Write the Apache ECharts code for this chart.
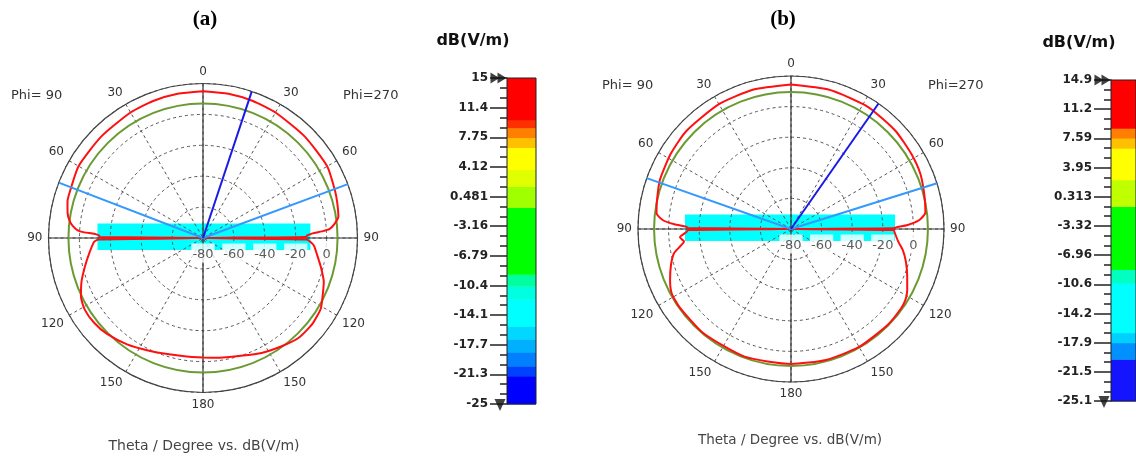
<!DOCTYPE html>
<html><head><meta charset="utf-8">
<script src="https://cdn.jsdelivr.net/npm/echarts@6/dist/echarts.min.js"></script>
<style>html,body{margin:0;padding:0;background:#fff}#c{width:1136px;height:460px}</style>
</head><body><div id="c"></div>
<script>
// ---------------- data ----------------
const radialTicks = [-80, -60, -40, -20, 0];

// (a) red pattern, Phi=270 side (right) and Phi=90 side (left): theta (deg) / dB(V/m)
const thA_R = [0, 10, 20, 30, 45, 60, 70, 75, 81, 84, 86, 86.8, 87.6, 88.6, 89.4, 90, 90.8, 92, 94, 98, 104, 110, 116, 121, 128, 136, 144, 153, 163, 172, 180];
const dbA_R = [15.0, 14.8, 14.4, 13.8, 13.0, 12.8, 10.8, 9.9, 8.7, 5.5, 2.0, -3.0, -9.0, -12.5, -13.5, -80, -13.0, -10.5, -8.0, -5.6, -1.3, 3.2, 6.1, 8.9, 10.0, 9.5, 6.6, 3.5, -0.2, -1.8, -2.6];
const thA_L = [0, 10, 20, 30, 45, 60, 71.6, 75, 79.6, 82.5, 84.5, 86.5, 87.3, 87.8, 88.6, 89.4, 90, 90.8, 92, 97.8, 103.7, 109.7, 115.6, 121.2, 127.9, 134.8, 144.5, 154.9, 167.3, 180];
const dbA_L = [15.0, 14.8, 14.4, 13.8, 13.0, 13.0, 11.2, 10.8, 9.1, 7.2, 5.0, 1.3, -3.0, -9.5, -12.5, -13.5, -80, -12.5, -9.5, -5.6, -1.3, 3.5, 7.6, 9.5, 9.3, 7.9, 4.6, 0.7, -2.2, -2.6];
const greenA = 7.1;          // reference level circle (dB)
const mainLobeA = 18.4;      // theta of main lobe (right side)
const beamA = [69.6, 291];   // angular width lines (angle values)
const cyanA = [-11.7, -10.5];// extent of highlight band, left / right (dB)

// (b)
const thB_R = [0, 15, 30, 36, 47, 58, 67, 76, 83, 86, 88, 89.1, 89.6, 90, 90.6, 92.4, 96.7, 100.6, 105.9, 112.3, 117.7, 121.8, 126, 135, 150, 165, 180];
const dbB_R = [14.5, 14.4, 14.2, 14.0, 13.7, 12.7, 11.9, 9.9, 8.5, 4.1, -3.7, -11.4, -13, -80, -13, -12.0, -9.4, -5.7, -1.9, 2.1, 5.8, 8.0, 8.7, 9.0, 9.0, 8.6, 8.2];
const thB_L = [0, 15, 30, 47, 58, 69.6, 77.8, 83.3, 86, 87.7, 88.7, 89.5, 90, 90.6, 91.8, 94.3, 96.7, 99.3, 101.7, 106.7, 112.9, 118.3, 125, 140, 160, 180];
const dbB_L = [14.5, 14.4, 14.2, 13.7, 12.7, 11.5, 9.6, 8.5, 4.1, -3.7, -11.4, -13, -80, -13, -11.4, -7.2, -9.6, -6.0, -1.9, 1.9, 5.8, 8.6, 9.0, 9.0, 8.8, 8.2];
const greenB = 9.5;
const mainLobeB = 34.9;
const beamB = [72.6, 289.4];
const cyanB = [-10.7, -12.0];

// colour bars
const cbLabelsA = ['15', '11.4', '7.75', '4.12', '0.481', '-3.16', '-6.79', '-10.4', '-14.1', '-17.7', '-21.3', '-25'];
const cbLabelsB = ['14.9', '11.2', '7.59', '3.95', '0.313', '-3.32', '-6.96', '-10.6', '-14.2', '-17.9', '-21.5', '-25.1'];
const cbRangeA = [-25, 15];
const cbRangeB = [-25.1, 14.9];
const cbEdgesA = [-25, -21.57, -20.35, -18.63, -17.04, -15.45, -12.14, -10.55, -9.08, -0.88, 1.69, 3.77, 6.47, 7.69, 8.91, 9.89, 15];
const cbEdgesB = [-25.1, -19.9, -17.84, -16.6, -10.38, -8.72, -0.85, 2.47, 6.4, 7.65, 8.9, 14.9];

// ---------------- styles ----------------
const cbColorsA = ['#0000ff', '#0040ff', '#0080ff', '#00b0ff', '#00d8ff', '#00ffff', '#00ffe0', '#00ffa0', '#00ff00', '#a0ff00', '#e0ff00', '#ffff00', '#ffc000', '#ff8000', '#ff3000', '#ff0000'];
const cbColorsB = ['#1414ff', '#0090ff', '#00d0ff', '#00ffff', '#00ffc0', '#00ff00', '#c0ff00', '#ffff00', '#ffc000', '#ff8000', '#ff0000'];
const FONT = 'DejaVu Sans';
const GRIDC = '#555';

function pattern(thR, dbR, thL, dbL) {
  const pts = [];
  for (let i = 0; i < thR.length; i++) pts.push([dbR[i], thR[i]]);
  for (let i = thL.length - 1; i >= 0; i--) pts.push([dbL[i], 360 - thL[i]]);
  return pts;
}

const polars = [
  {center: [203, 238], radius: 154.5},
  {center: [791, 229], radius: 153}
];

const angleAxes = [0, 1].map(i => ({
  polarIndex: i, type: 'value', min: 0, max: 360, interval: 30, startAngle: 90, clockwise: true, z: 1,
  axisLine: {lineStyle: {color: '#444', width: 1.2}},
  axisTick: {show: false},
  axisLabel: {margin: 6, color: '#333', fontSize: 12, fontFamily: FONT,
    formatter: v => String(v <= 180 ? v : 360 - v)},
  splitLine: {show: true, lineStyle: {color: GRIDC, type: [3, 3], width: 1}}
}));
const radiusAxes = [0, 1].map(i => ({
  polarIndex: i, type: 'value', min: -80, max: 20, interval: 20, z: 1,
  axisLine: {show: false}, axisTick: {show: false}, axisLabel: {show: false},
  splitLine: {show: true, lineStyle: {color: GRIDC, type: [3, 3], width: 1}}
}));

function polarSeries(pi, red, green, lobe, beam, cyan) {
  return [
    { // cyan highlight band behind the radial labels
      type: 'custom', coordinateSystem: 'polar', polarIndex: pi, z: 0, silent: true,
      data: [cyan],
      renderItem: (params, api) => {
        const pL = api.coord([api.value(0), 270]);
        const pR = api.coord([api.value(1), 90]);
        return {type: 'rect', shape: {x: pL[0], y: pL[1] - 14.5, width: pR[0] - pL[0], height: 26.5},
          style: {fill: '#00ffff'}};
      }
    },
    { // cross axes
      type: 'line', coordinateSystem: 'polar', polarIndex: pi, symbol: 'none', z: 2, silent: true,
      lineStyle: {color: '#333', width: 1.2},
      data: [[20, 0], [-80, 0], [20, 180]]
    },
    {
      type: 'line', coordinateSystem: 'polar', polarIndex: pi, symbol: 'none', z: 2, silent: true,
      lineStyle: {color: '#333', width: 1.2},
      data: [[20, 90], [-80, 90], [20, 270]]
    },
    { // green reference circle
      type: 'custom', coordinateSystem: 'polar', polarIndex: pi, z: 3, silent: true,
      data: [[green, 0]],
      renderItem: (params, api) => {
        const c = api.coord([-80, 0]);
        const p = api.coord([api.value(0), 0]);
        const r = Math.hypot(p[0] - c[0], p[1] - c[1]);
        return {type: 'circle', shape: {cx: c[0], cy: c[1], r: r},
          style: {fill: 'none', stroke: '#6b9a33', lineWidth: 2}};
      }
    },
    { // red pattern
      type: 'line', coordinateSystem: 'polar', polarIndex: pi, symbol: 'none', z: 4, smooth: 0.2,
      lineStyle: {color: '#ff1010', width: 2}, data: red
    },
    {
      type: 'line', coordinateSystem: 'polar', polarIndex: pi, symbol: 'none', z: 5,
      lineStyle: {color: '#3399ff', width: 2}, data: [[20, beam[0]], [-80, 0], [20, beam[1]]]
    },
    {
      type: 'line', coordinateSystem: 'polar', polarIndex: pi, symbol: 'none', z: 6,
      lineStyle: {color: '#1a1ae6', width: 2}, data: [[-80, lobe], [20, lobe]]
    },
    { // radial tick labels
      type: 'scatter', coordinateSystem: 'polar', polarIndex: pi, z: 7, silent: true,
      symbolSize: 1, itemStyle: {color: 'rgba(0,0,0,0)'},
      data: radialTicks.map(v => [v, 90]),
      label: {show: true, position: 'bottom', distance: 5, formatter: p => String(p.value[0]),
        fontSize: 13, fontFamily: FONT, color: '#333', backgroundColor: '#fff', padding: [5, 1, 1, 1]}
    }
  ];
}

function cbSeries(xi, yi, edges, colors, range) {
  const bands = [];
  for (let i = 0; i < edges.length - 1; i++) bands.push([edges[i], edges[i + 1]]);
  return [
    {
      type: 'custom', xAxisIndex: xi, yAxisIndex: yi, z: 2, silent: true,
      data: bands,
      renderItem: (params, api) => {
        const p0 = api.coord([0, api.value(0)]);
        const p1 = api.coord([1, api.value(1)]);
        return {type: 'rect', shape: {x: p0[0], y: p1[1], width: p1[0] - p0[0], height: p0[1] - p1[1] + 0.5},
          style: {fill: colors[params.dataIndex]}};
      }
    },
    {
      type: 'scatter', xAxisIndex: xi, yAxisIndex: yi, z: 5, clip: false, silent: true,
      symbol: 'triangle', itemStyle: {color: '#111'},
      data: [
        {value: [0, range[1]], symbolRotate: -90, symbolSize: [11, 9], symbolOffset: [-12, 0]},
        {value: [0, range[1]], symbolRotate: -90, symbolSize: [11, 9], symbolOffset: [-5, 0]},
        {value: [0, range[0]], symbolRotate: 180, symbolSize: [11, 12], symbolOffset: [-7, 1]}
      ]
    }
  ];
}

function cbTickAxis(gi, labels) {
  return {
    gridIndex: gi, type: 'value', min: 0, max: labels.length - 1, interval: 1, position: 'left',
    axisLine: {show: true, lineStyle: {color: '#222', width: 1}},
    axisTick: {show: true, length: 17, lineStyle: {color: '#222', width: 1.5}},
    minorTick: {show: true, splitNumber: 3, length: 7, lineStyle: {color: '#222', width: 1.5}},
    splitLine: {show: false},
    axisLabel: {margin: 19, fontSize: 12, fontWeight: 'bold', fontFamily: FONT, color: '#222',
      formatter: v => labels[labels.length - 1 - Math.round(v)]}
  };
}
function cbValueAxis(gi, range) {
  return {gridIndex: gi, type: 'value', min: range[0], max: range[1], show: false};
}

const txt = (x, y, text, font, fill, align) => ({
  type: 'text', x: x, y: y, silent: true,
  style: {text: text, font: font, fill: fill, align: align || 'center', verticalAlign: 'middle'}
});

const option = {
  animation: false,
  backgroundColor: '#fff',
  polar: polars,
  angleAxis: angleAxes,
  radiusAxis: radiusAxes,
  grid: [
    {left: 507, top: 78, width: 29, height: 326, show: true, z: 3, backgroundColor: 'rgba(0,0,0,0)', borderColor: '#222', borderWidth: 1},
    {left: 1111, top: 80, width: 29, height: 321, show: true, z: 3, backgroundColor: 'rgba(0,0,0,0)', borderColor: '#222', borderWidth: 1}
  ],
  xAxis: [
    {gridIndex: 0, type: 'value', min: 0, max: 1, show: false},
    {gridIndex: 1, type: 'value', min: 0, max: 1, show: false}
  ],
  yAxis: [cbTickAxis(0, cbLabelsA), cbValueAxis(0, cbRangeA), cbTickAxis(1, cbLabelsB), cbValueAxis(1, cbRangeB)],
  series: [
    ...polarSeries(0, pattern(thA_R, dbA_R, thA_L, dbA_L), greenA, mainLobeA, beamA, cyanA),
    ...polarSeries(1, pattern(thB_R, dbB_R, thB_L, dbB_L), greenB, mainLobeB, beamB, cyanB),
    ...cbSeries(0, 1, cbEdgesA, cbColorsA, cbRangeA),
    ...cbSeries(1, 3, cbEdgesB, cbColorsB, cbRangeB)
  ],
  graphic: [
    txt(205, 20, '(a)', 'bold 21px "Liberation Serif"', '#000'),
    txt(783, 20, '(b)', 'bold 21px "Liberation Serif"', '#000'),
    txt(473, 41, 'dB(V/m)', 'bold 16px "DejaVu Sans"', '#111'),
    txt(1079, 43, 'dB(V/m)', 'bold 16px "DejaVu Sans"', '#111'),
    txt(11, 96, 'Phi= 90', '13px "DejaVu Sans"', '#333', 'left'),
    txt(343, 96, 'Phi=270', '13px "DejaVu Sans"', '#333', 'left'),
    txt(602, 86, 'Phi= 90', '13px "DejaVu Sans"', '#333', 'left'),
    txt(928, 86, 'Phi=270', '13px "DejaVu Sans"', '#333', 'left'),
    txt(204, 446, 'Theta / Degree vs. dB(V/m)', '14px "DejaVu Sans"', '#444'),
    txt(790, 440, 'Theta / Degree vs. dB(V/m)', '13.5px "DejaVu Sans"', '#444')
  ]
};

const chart = echarts.init(document.getElementById('c'), null, {renderer: 'canvas'});
chart.setOption(option);
</script>
</body></html>
